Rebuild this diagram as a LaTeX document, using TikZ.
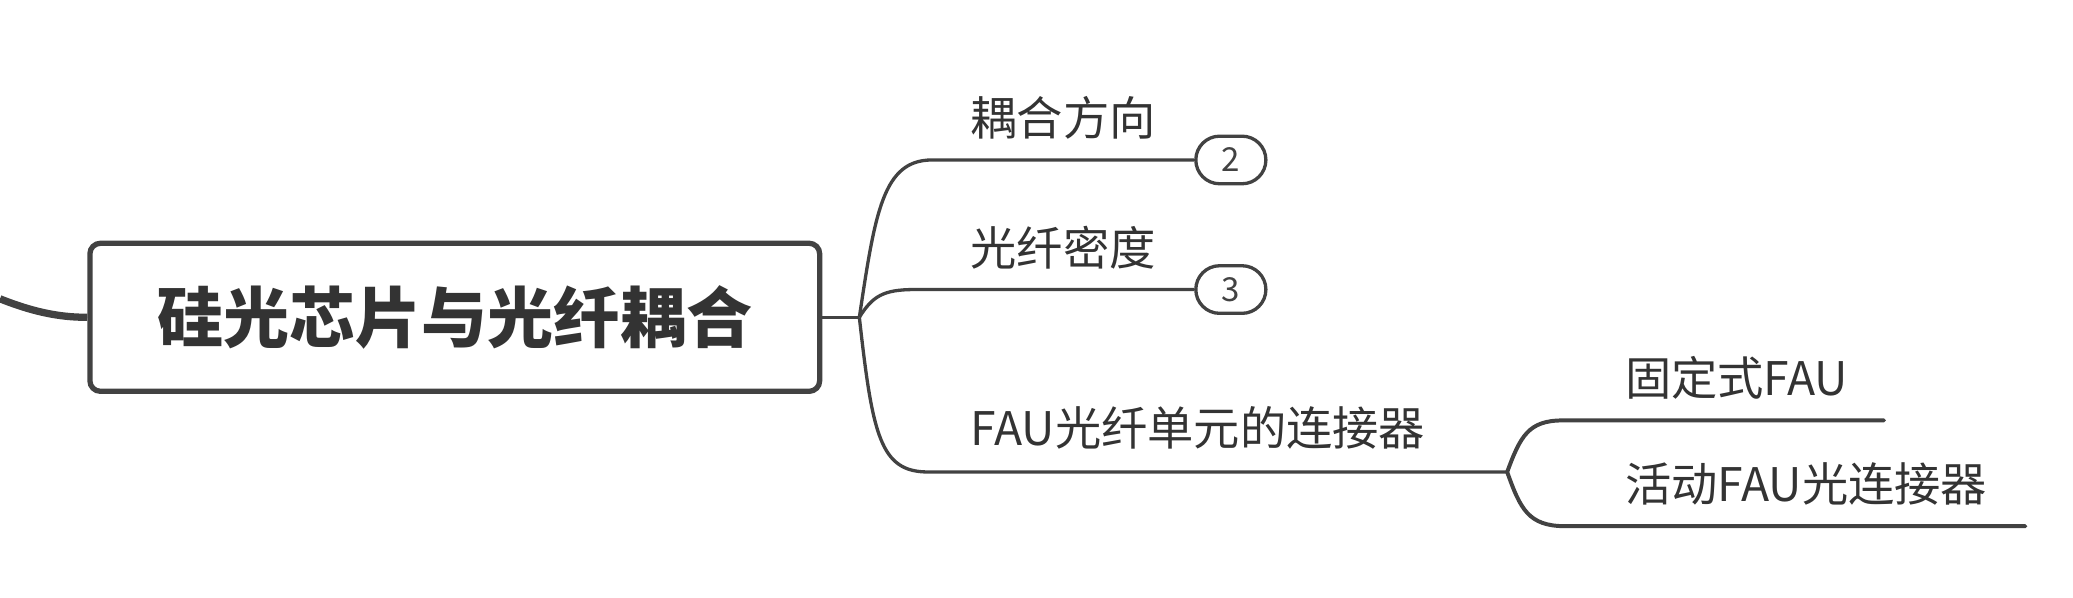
\documentclass[tikz,border=0pt]{standalone}
\usepackage{fontspec}
\setmainfont{Noto Sans CJK SC}
\definecolor{lnc}{HTML}{424242}
\definecolor{txc}{HTML}{333333}
\tikzset{
  rootbox/.style={draw=lnc, line width=4pt, rounded corners=8pt, fill=white,
    minimum width=552pt, minimum height=112pt, inner sep=0pt,
    font=\fontsize{50pt}{56pt}\selectfont\bfseries, text=txc},
  topic/.style={anchor=west, inner sep=0pt, text=txc, font=\fontsize{35pt}{40pt}\selectfont},
  pill/.style={draw=lnc, line width=2.5pt, rounded corners=18pt, minimum width=53pt,
    minimum height=36pt, inner sep=0pt, text=lnc, font=\fontsize{25pt}{28pt}\selectfont},
  branch/.style={draw=lnc, line width=2.5pt},
  subbranch/.style={draw=lnc, line width=3pt, line cap=round},
  incoming/.style={draw=lnc, line width=5.5pt},
}
\begin{document}
\begin{tikzpicture}[x=1pt,y=-1pt]
\useasboundingbox (0,0) rectangle (1568,452);
% incoming connector
\coordinate (in) at (0,226);
\node[rootbox] (root) at (344,240) {硅光芯片与光纤耦合};
\draw[incoming] (in) .. controls (30,238) and (50,240) .. (root.west);
% branch point
\coordinate (bp) at (650,240);
\draw[branch] (root.east) -- (bp);
% pills
\node[pill] (p2) at (931,121) {2};
\node[pill] (p3) at (931,219) {3};
\coordinate (e3) at (1140,357);
% branches
\draw[branch] (bp) .. controls (662,160) and (668,121) .. (705,121) -- (p2.west);
\draw[branch] (bp) .. controls (660,224) and (668,219) .. (692,219) -- (p3.west);
\draw[branch] (bp) .. controls (660,330) and (666,357) .. (702,357) -- (e3);
% topic texts
\node[topic] (t1) at (734,89) {耦合方向};
\node[topic] (t2) at (734,187) {光纤密度};
\node[topic] (t3) at (734,324) {FAU光纤单元的连接器};
% sub-branches
\coordinate (s1) at (1425,318);
\coordinate (s2) at (1532,398);
\draw[subbranch] (e3) .. controls (1150,330) and (1156,318) .. (1182,318) -- (s1);
\draw[subbranch] (e3) .. controls (1150,385) and (1156,398) .. (1184,398) -- (s2);
\node[topic] (t4) at (1229,286) {固定式FAU};
\node[topic] (t5) at (1229,366) {活动FAU光连接器};
\end{tikzpicture}
\end{document}
